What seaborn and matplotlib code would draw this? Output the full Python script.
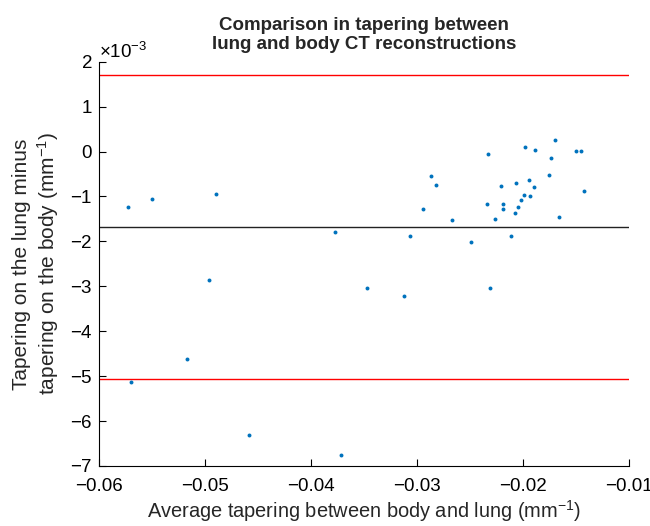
import matplotlib
matplotlib.use("Agg")
import matplotlib.pyplot as plt
import seaborn as sns
import pandas as pd
from matplotlib.ticker import ScalarFormatter

# Average tapering between body and lung (mm^-1)
avg_tapering = [
    -0.05726, -0.05503, -0.04899, -0.03779, -0.04965, -0.03472, -0.05175,
    -0.05701, -0.04585, -0.03720, -0.02330, -0.01987, -0.01892, -0.01701,
    -0.01500, -0.01453, -0.01739, -0.01758, -0.02874, -0.02826, -0.02213,
    -0.02066, -0.01949, -0.01899, -0.01425, -0.01991, -0.01934, -0.02019,
    -0.02345, -0.02189, -0.02189, -0.02047, -0.02075, -0.02946, -0.01663,
    -0.02675, -0.02267, -0.03069, -0.02493, -0.02113, -0.03123, -0.02314,
]
# Lung minus body tapering, in units of 1e-3 mm^-1
diff_tapering_e3 = [
    -1.243, -1.051, -0.940, -1.786, -2.862, -3.033, -4.628,
    -5.127, -6.307, -6.766, -0.049, 0.107, 0.027, 0.263,
    0.018, 0.004, -0.151, -0.523, -0.546, -0.753, -0.762,
    -0.702, -0.641, -0.797, -0.873, -0.969, -0.991, -1.087,
    -1.169, -1.176, -1.287, -1.243, -1.363, -1.281, -1.459,
    -1.526, -1.503, -1.882, -2.022, -1.882, -3.212, -3.047,
]
# Mean difference and limits of agreement (1e-3 mm^-1)
mean_diff_e3 = -1.675
limits_e3 = [1.705, -5.055]

x_ticks = [-0.06, -0.05, -0.04, -0.03, -0.02, -0.01]
y_ticks_e3 = [2, 1, 0, -1, -2, -3, -4, -5, -6, -7]

df = pd.DataFrame({
    "avg": avg_tapering,
    "diff": [v * 1e-3 for v in diff_tapering_e3],
})

sns.set_style("ticks")
plt.rcParams["font.family"] = ["Liberation Sans", "DejaVu Sans"]
plt.rcParams["mathtext.fontset"] = "custom"
plt.rcParams["mathtext.rm"] = "Liberation Sans"
plt.rcParams["mathtext.it"] = "Liberation Sans:italic"

fig = plt.figure(figsize=(6.5, 5.26), dpi=100)
ax = fig.add_axes([0.1528, 0.1141, 0.8154, 0.7686])

for lim in limits_e3:
    ax.axhline(lim * 1e-3, color="#ff0000", lw=1.0, zorder=1)
ax.axhline(mean_diff_e3 * 1e-3, color="#222222", lw=1.0, zorder=1)

sns.scatterplot(data=df, x="avg", y="diff", ax=ax, color="#0072bd",
                s=8, linewidth=0, zorder=3)

ax.set_xlim(-0.06, -0.01)
ax.set_ylim(-7e-3, 2e-3)
ax.set_xticks(x_ticks)
ax.set_yticks([v * 1e-3 for v in y_ticks_e3])
ax.set_xticklabels(["\u22120.06", "\u22120.05", "\u22120.04", "\u22120.03",
                    "\u22120.02", "\u22120.01"])
fmt = ScalarFormatter(useMathText=True)
fmt.set_powerlimits((-2, 2))
ax.yaxis.set_major_formatter(fmt)
ax.yaxis.get_offset_text().set_fontsize(13.5)

ax.tick_params(direction="in", length=5, width=0.8, labelsize=13.5,
               colors="black")
ax.tick_params(axis="x", pad=9)
ax.tick_params(axis="y", pad=5)
for side in ("top", "right"):
    ax.spines[side].set_visible(False)
for side in ("left", "bottom"):
    ax.spines[side].set_color("black")
    ax.spines[side].set_linewidth(0.8)

ax.set_xlabel("Average tapering between body and lung (mm$^{-1}$)",
              fontsize=14.4, labelpad=2)
ax.set_ylabel("Tapering on the lung minus\ntapering on the body (mm$^{-1}$)",
              fontsize=15, labelpad=6)
ax.set_title("Comparison in tapering between\nlung and body CT reconstructions",
             fontsize=13.5, fontweight="bold", pad=9)

fig.savefig("out.png", dpi=100)
